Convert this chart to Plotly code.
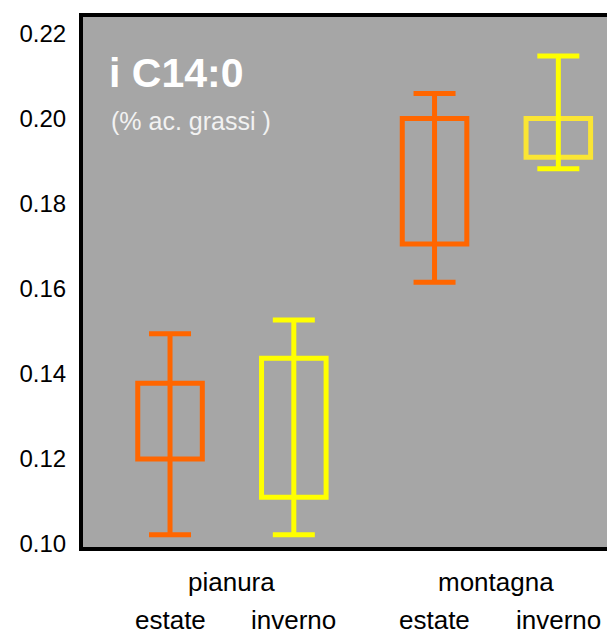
import plotly.graph_objects as go

# ---- data ----
groups = ["pianura", "montagna"]
seasons = ["estate", "inverno"]
# values per season, ordered as groups
q1 = {"estate": [0.1198, 0.1704], "inverno": [0.1108, 0.1908]}
q3 = {"estate": [0.1376, 0.1999], "inverno": [0.1435, 0.1999]}
vmin = {"estate": [0.1020, 0.1614], "inverno": [0.1020, 0.1881]}
vmax = {"estate": [0.1493, 0.2058], "inverno": [0.1525, 0.2146]}
yticks = [0.10, 0.12, 0.14, 0.16, 0.18, 0.20, 0.22]
title_text = "i C14:0"
subtitle_text = "(% ac. grassi )"

# ---- styles ----
box_colors = {"estate": ["#FF6600", "#FF6600"], "inverno": ["#FFFF00", "#FAE534"]}
whisker_colors = {"estate": "#FF6600", "inverno": "#FFFF00"}
offsets = {"estate": -0.234, "inverno": 0.234}
box_w = 0.244

fig = go.Figure()
gidx = list(range(len(groups)))
for s in seasons:
    xs = [g + offsets[s] for g in gidx]
    fig.add_trace(go.Bar(
        x=xs, base=q1[s], y=[b - a for a, b in zip(q1[s], q3[s])],
        width=box_w,
        marker=dict(color="rgba(0,0,0,0)", line=dict(color=box_colors[s], width=5)),
        showlegend=False, hoverinfo="skip"))
for s in seasons:
    xs = [g + offsets[s] for g in gidx]
    mids = [(a + b) / 2 for a, b in zip(vmin[s], vmax[s])]
    half = [(b - a) / 2 for a, b in zip(vmin[s], vmax[s])]
    fig.add_trace(go.Scatter(
        x=xs, y=mids, mode="markers",
        marker=dict(size=1, opacity=0, color=whisker_colors[s]),
        error_y=dict(type="data", array=half, symmetric=True,
                     color=whisker_colors[s], thickness=5, width=21),
        showlegend=False, hoverinfo="skip"))

# labels below the axis
ann = []
for gi, g in enumerate(groups):
    ann.append(dict(x=gi, y=0, xref="x", yref="paper", text=g, showarrow=False,
                    yanchor="middle", yshift=-35,
                    font=dict(size=26, color="black", family="Liberation Sans, Arial")))
    for s in seasons:
        ann.append(dict(x=gi + offsets[s], y=0, xref="x", yref="paper", text=s,
                        showarrow=False, yanchor="middle", yshift=-73,
                        font=dict(size=26, color="black", family="Liberation Sans, Arial")))
ann.append(dict(x=0.045, y=0.894, xref="x domain", yref="y domain",
                text="<b>" + title_text + "</b>",
                showarrow=False, xanchor="left", yanchor="middle",
                font=dict(size=41, color="white", family="Liberation Sans, Arial")))
ann.append(dict(x=0.05, y=0.804, xref="x domain", yref="y domain", text=subtitle_text,
                showarrow=False, xanchor="left", yanchor="middle",
                font=dict(size=25, color="#F2F2F2", family="Liberation Sans, Arial")))

fig.update_layout(
    width=607, height=637,
    margin=dict(l=83, r=0, t=17, b=90),
    paper_bgcolor="white", plot_bgcolor="#A6A6A6",
    barmode="overlay",
    annotations=ann,
    font=dict(family="Liberation Sans, Arial", color="black"),
    xaxis=dict(range=[-0.563, 1.418], showticklabels=False, ticks="",
               showgrid=False, zeroline=False,
               showline=True, linecolor="black", linewidth=4, mirror=True),
    yaxis=dict(range=[0.0991, 0.2238], tickvals=yticks,
               ticktext=[f"{v:.2f}" for v in yticks],
               ticks="outside", ticklen=8, tickcolor="rgba(0,0,0,0)",
               tickfont=dict(size=24, color="black"),
               showgrid=False, zeroline=False,
               showline=True, linecolor="black", linewidth=4, mirror=False),
)

fig.write_html("out.html")
